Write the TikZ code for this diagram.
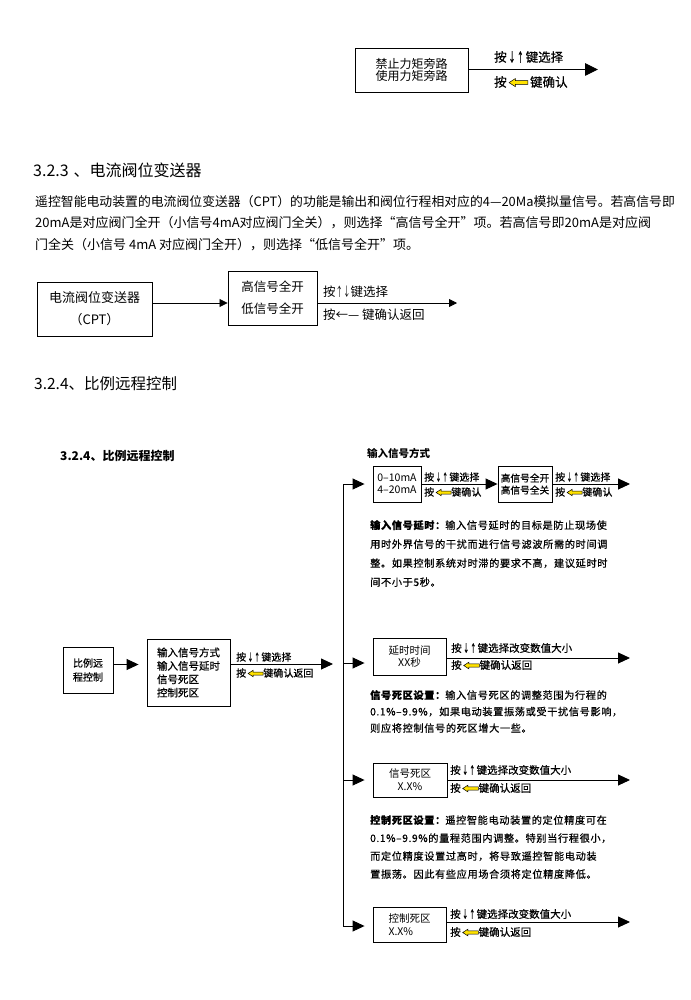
\documentclass[tikz,border=0pt]{standalone}
\usepackage{graphicx}
\usepackage{fontspec}
\setmainfont{Noto Sans CJK SC}
\newfontfamily\hei[FakeBold=0.5]{Noto Sans CJK SC}
\newfontfamily\cjksp[LetterSpace=6,FakeBold=0.4]{Noto Sans CJK SC}
\usetikzlibrary{arrows.meta}
\definecolor{yel}{RGB}{255,226,0}
\newcommand{\fs}[1]{\fontsize{#1}{#1}\selectfont}
\newcommand{\yarr}{\tikz[baseline=-0.33em]{\filldraw[fill=yel,draw=black,line width=0.5pt] (0,0) -- (0.5em,0.32em) -- (0.5em,0.15em) -- (1.5em,0.15em) -- (1.5em,-0.15em) -- (0.5em,-0.15em) -- (0.5em,-0.32em) -- cycle;}}
\newcommand{\dnup}{\hspace{0.15em}\scalebox{0.55}[1]{↓}\hspace{0.12em}\scalebox{0.55}[1]{↑}\hspace{0.15em}}
\begin{document}
\begin{tikzpicture}[x=1pt,y=-1pt,
  box/.style={draw, line width=0.9pt, inner sep=0pt, align=center},
  lab/.style={anchor=west, inner sep=0pt},
  ln/.style={line width=0.9pt},
  arrBig/.style={line width=0.9pt, -{Triangle[length=13pt,width=12.5pt]}},
  arrS/.style={line width=0.8pt, -{Triangle[length=8pt,width=8pt]}},
  arr/.style={line width=0.9pt, -{Triangle[length=12pt,width=11pt]}},
  para/.style={anchor=west, inner sep=0pt, align=left}
]
\useasboundingbox (0,0) rectangle (690,1000);
\fill[white] (0,0) rectangle (690,1000);

% ---- top example ----
\node[box, minimum width=113pt, minimum height=44pt, font=\fontsize{12}{11.6}\selectfont] (b0) at (411.5,70) {禁止力矩旁路\\使用力矩旁路};
\coordinate (e0) at (598,69.5);
\draw[arrBig] (b0.east |- e0) -- (e0);
\node[lab, font=\hei\fs{12.5}] (l0a) at (494,57) {按\dnup 键选择};
\node[lab, font=\hei\fs{12.5}] (l0b) at (494,82) {按\,\yarr\,键确认};

% ---- 3.2.3 ----
\node[lab, font=\fs{16}] (h1) at (33,170) {3.2.3\hspace{5pt}、电流阀位变送器};
\node[lab, font=\fs{12.85}] (p1) at (35,202) {遥控智能电动装置的电流阀位变送器（CPT）的功能是输出和阀位行程相对应的4—20Ma模拟量信号。若高信号即};
\node[lab, font=\fs{13}] (p2) at (35,223) {20mA是对应阀门全开（小信号4mA对应阀门全关），则选择“高信号全开”项。若高信号即20mA是对应阀};
\node[lab, font=\fs{13}] (p3) at (35,245) {门全关（小信号 4mA 对应阀门全开），则选择“低信号全开”项。};

\node[box, minimum width=115pt, minimum height=54pt, font=\fontsize{13}{22}\selectfont] (cA) at (94.5,309) {电流阀位变送器\\（CPT）};
\node[box, minimum width=89pt, minimum height=54pt, font=\fontsize{12.5}{22}\selectfont] (cB) at (272.5,298) {高信号全开\\低信号全开};
\coordinate (cy) at (0,303);
\coordinate (cE) at (457,303);
\draw[arrS] (cA.east |- cy) -- (cB.west |- cy);
\draw[arrS] (cB.east |- cy) -- (cE);
\node[lab, font=\fs{12.5}] (cl1) at (323,292) {按\scalebox{0.6}[1]{↑}\scalebox{0.6}[1]{↓}键选择};
\node[lab, font=\fs{12.5}] (cl2) at (323,315) {按←— 键确认返回};

% ---- 3.2.4 ----
\node[lab, font=\fs{15.5}] (h2) at (34,384) {3.2.4、比例远程控制};
\node[lab, font=\bfseries\fs{12}] (t0) at (60,456) {3.2.4、比例远程控制};
\node[lab, font=\bfseries\fs{10.5}] (t1) at (367,453) {输入信号方式};

% input signal mode row
\node[box, minimum width=48pt, minimum height=36pt, font=\fontsize{10.5}{12}\selectfont] (i1) at (397,484) {0–10mA\\4–20mA};
\node[box, minimum width=54pt, minimum height=36pt, font=\hei\fontsize{9.7}{12}\selectfont] (i2) at (525,484) {高信号全开\\高信号全关};
\coordinate (iE) at (630,484);
\draw[arr] (i1) -- (i2);
\draw[arr] (i2) -- (iE);
\node[lab, font=\hei\fs{10}] (il1) at (424,477) {按\dnup 键选择};
\node[lab, font=\hei\fs{10}] (il2) at (424,492) {按\,\yarr 键确认};
\node[lab, font=\hei\fs{10}] (il3) at (555,477) {按\dnup 键选择};
\node[lab, font=\hei\fs{10}] (il4) at (555,492) {按\,\yarr 键确认};

% trunk
\coordinate (tT) at (343,484);
\coordinate (tB) at (343,926);
\draw[ln] (tT) -- (tB);
\draw[arr, shorten >=8pt] (tT) -- (i1.west);

% paragraph 1
\node[para, font=\cjksp\fontsize{10.2}{19}\selectfont] (q1) at (370,553.5) {{\bfseries 输入信号延时：}输入信号延时的目标是防止现场使\\用时外界信号的干扰而进行信号滤波所需的时间调\\整。如果控制系统对时滞的要求不高，建议延时时\\间不小于5秒。};

% main row
\node[box, minimum width=50pt, minimum height=46pt, font=\hei\fontsize{10}{14}\selectfont] (m1) at (88,670) {比例远\\程控制};
\node[box, minimum width=83pt, minimum height=67pt, font=\hei\fontsize{10.5}{13.4}\selectfont, align=left] (m2) at (188.5,672.5) {输入信号方式\\输入信号延时\\信号死区\\控制死区};
\coordinate (my) at (0,664.5);
\coordinate (mE) at (333,664);
\draw[arr, shorten >=8pt] (m1.east |- my) -- (m2.west |- my);
\draw[arr] (m2.east |- mE) -- (mE);
\node[lab, font=\hei\fs{10}] (ml1) at (236,657) {按\dnup 键选择};
\node[lab, font=\hei\fs{10}] (ml2) at (236,673) {按\,\yarr 键确认返回};

% delay
\node[box, minimum width=73pt, minimum height=37pt, font=\fontsize{10.5}{12}\selectfont] (d1) at (409.5,656.5) {延时时间\\XX秒};
\coordinate (dy) at (0,663);
\coordinate (dE) at (630,658);
\draw[arr, shorten >=8pt] (tT |- dy) -- (d1.west |- dy);
\draw[arr] (d1.east |- dE) -- (dE);
\node[lab, font=\hei\fs{10.5}] (dl1) at (451,648) {按\dnup 键选择改变数值大小};
\node[lab, font=\hei\fs{10.5}] (dl2) at (451,665) {按\,\yarr 键确认返回};

% paragraph 2
\node[para, font=\cjksp\fontsize{10.2}{16.5}\selectfont] (q2) at (370,711.5) {{\bfseries 信号死区设置：}输入信号死区的调整范围为行程的\\0.1\%–9.9\%，如果电动装置振荡或受干扰信号影响，\\则应将控制信号的死区增大一些。};

% signal dead zone
\node[box, minimum width=74pt, minimum height=34pt, font=\fontsize{10.5}{13}\selectfont] (s1) at (410,780) {信号死区\\X.X\%};
\coordinate (sE) at (630,780);
\draw[arr, shorten >=8pt] (tT |- s1) -- (s1.west);
\draw[arr] (s1) -- (sE);
\node[lab, font=\hei\fs{10.5}] (sl1) at (450,770) {按\dnup 键选择改变数值大小};
\node[lab, font=\hei\fs{10.5}] (sl2) at (450,788) {按\,\yarr 键确认返回};

% paragraph 3
\node[para, font=\cjksp\fontsize{10.2}{18}\selectfont] (q3) at (370,847) {{\bfseries 控制死区设置：}遥控智能电动装置的定位精度可在\\0.1\%–9.9\%的量程范围内调整。特别当行程很小，\\而定位精度设置过高时，将导致遥控智能电动装\\置振荡。因此有些应用场合须将定位精度降低。};

% control dead zone
\node[box, minimum width=73pt, minimum height=35pt, font=\fontsize{10.5}{13.5}\selectfont, align=left] (k1) at (409.5,924.5) {控制死区\\X.X\%};
\coordinate (kE) at (630,922);
\draw[arr, shorten >=8pt] (tB) -- (k1.west |- tB);
\draw[arr] (k1.east |- kE) -- (kE);
\node[lab, font=\hei\fs{10.5}] (kl1) at (450,914) {按\dnup 键选择改变数值大小};
\node[lab, font=\hei\fs{10.5}] (kl2) at (450,932) {按\,\yarr 键确认返回};
\end{tikzpicture}
\end{document}
